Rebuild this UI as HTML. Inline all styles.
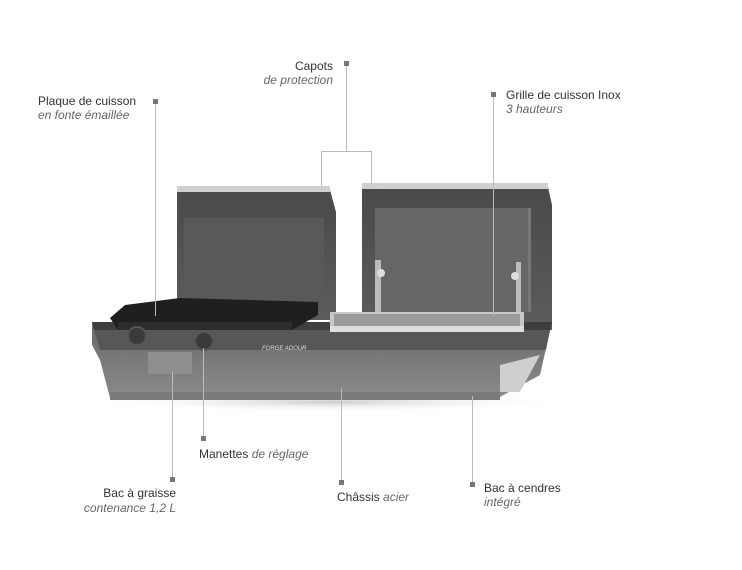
<!DOCTYPE html>
<html><head><meta charset="utf-8"><style>
html,body{margin:0;padding:0;background:#fff;width:742px;height:570px;overflow:hidden}
svg{display:block}
text{font-family:"Liberation Sans",sans-serif;font-size:12px;fill:#333}
.i{font-style:italic;fill:#666}
</style></head><body>
<svg width="742" height="570" viewBox="0 0 742 570">
<defs>
<linearGradient id="base" x1="0" y1="0" x2="0" y2="1"><stop offset="0" stop-color="#6a6a6a"/><stop offset="1" stop-color="#8a8a8a"/></linearGradient>
<linearGradient id="lid" x1="0" y1="0" x2="0" y2="1"><stop offset="0" stop-color="#4a4a4a"/><stop offset="1" stop-color="#5c5c5c"/></linearGradient>
<radialGradient id="sh" cx="0.5" cy="0.5" r="0.5"><stop offset="0" stop-color="#ccc"/><stop offset="1" stop-color="#fff" stop-opacity="0"/></radialGradient>
</defs>
<ellipse cx="330" cy="402" rx="250" ry="10" fill="url(#sh)"/>
<!-- left lid -->
<polygon points="177,190 330,190 336,212 336,320 177,320" fill="url(#lid)"/>
<rect x="177" y="186" width="153" height="6" fill="#cfcfcf"/>
<rect x="184" y="218" width="140" height="95" fill="#595959"/>
<!-- right lid -->
<polygon points="362,187 548,187 552,205 552,330 362,330" fill="url(#lid)"/>
<rect x="362" y="183" width="186" height="6" fill="#cfcfcf"/>
<rect x="375" y="208" width="153" height="104" fill="#666"/>
<rect x="528" y="208" width="3" height="104" fill="#777"/>
<!-- grill posts -->
<rect x="375" y="260" width="6" height="55" fill="#bbb"/>
<circle cx="381" cy="273" r="4" fill="#ddd"/>
<rect x="516" y="262" width="5" height="52" fill="#bbb"/>
<circle cx="515" cy="276" r="4" fill="#ddd"/>
<!-- base -->
<polygon points="92,322 552,322 540,375 498,398 110,398 100,360 92,345" fill="url(#base)"/>
<polygon points="92,322 552,322 550,330 94,330" fill="#3e3e3e"/>
<polygon points="94,330 550,330 546,350 100,350" fill="#575757"/>
<rect x="148" y="352" width="44" height="22" fill="#8e8e8e"/>
<polygon points="500,365 540,355 520,392 500,392" fill="#cfcfcf"/>
<rect x="110" y="392" width="390" height="8" fill="#7a7a7a"/>
<!-- griddle -->
<polygon points="110,318 125,305 180,298 318,302 318,315 292,330 118,330" fill="#1f1f1f"/>
<polygon points="118,322 292,322 292,330 118,330" fill="#2c2c2c"/>
<!-- grill -->
<rect x="330" y="312" width="194" height="20" fill="#c8c8c8"/>
<rect x="334" y="314" width="186" height="12" fill="#9a9a9a"/>
<rect x="330" y="326" width="194" height="6" fill="#dedede"/>
<!-- knobs -->
<circle cx="137" cy="336" r="9" fill="#3a3a3a" stroke="#555" stroke-width="2"/>
<circle cx="204" cy="341" r="9" fill="#3a3a3a" stroke="#555" stroke-width="2"/>
<text x="262" y="350" style="font-size:6px;fill:#ddd;font-style:italic">FORGE ADOUR</text>
<!-- connector lines -->
<g stroke="#bbb" stroke-width="1" fill="none">
<line x1="155.5" y1="101" x2="155.5" y2="316"/>
<polyline points="321.5,186 321.5,151.5 371.5,151.5 371.5,184"/>
<line x1="346.5" y1="64" x2="346.5" y2="151"/>
<line x1="493.5" y1="95" x2="493.5" y2="316"/>
<line x1="172.5" y1="372" x2="172.5" y2="479"/>
<line x1="203.5" y1="348" x2="203.5" y2="438"/>
<line x1="341.5" y1="388" x2="341.5" y2="482"/>
<line x1="472.5" y1="396" x2="472.5" y2="484"/>
</g>
<g fill="#777">
<rect x="344" y="61" width="5" height="5"/>
<rect x="153" y="99" width="5" height="5"/>
<rect x="491" y="92" width="5" height="5"/>
<rect x="170" y="477" width="5" height="5"/>
<rect x="201" y="436" width="5" height="5"/>
<rect x="339" y="480" width="5" height="5"/>
<rect x="470" y="482" width="5" height="5"/>
</g>
<text x="333" y="70" text-anchor="end">Capots</text>
<text x="333" y="84" text-anchor="end" class="i">de protection</text>
<text x="38" y="105">Plaque de cuisson</text>
<text x="38" y="119" class="i">en fonte émaillée</text>
<text x="506" y="99">Grille de cuisson Inox</text>
<text x="506" y="113" class="i">3 hauteurs</text>
<text x="199" y="458">Manettes <tspan class="i">de réglage</tspan></text>
<text x="176" y="497" text-anchor="end">Bac à graisse</text>
<text x="176" y="512" text-anchor="end" class="i">contenance 1,2 L</text>
<text x="337" y="501">Châssis <tspan class="i">acier</tspan></text>
<text x="484" y="492">Bac à cendres</text>
<text x="484" y="506" class="i">intégré</text>
</svg>
</body></html>
